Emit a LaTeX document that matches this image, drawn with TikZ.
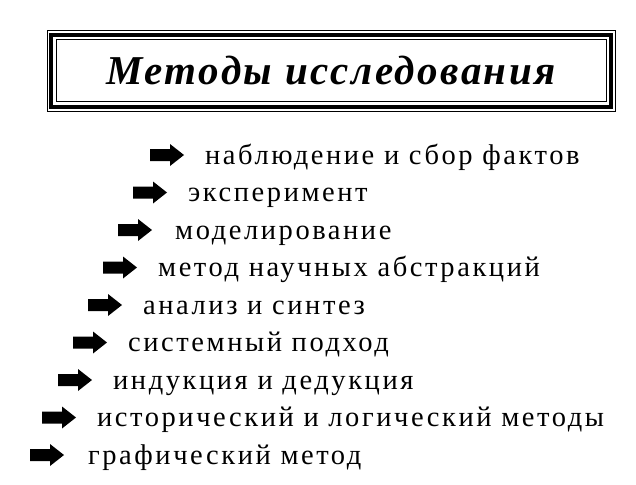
\documentclass[tikz,border=0pt]{standalone}
\usepackage{fontspec}
\setmainfont{Liberation Serif}
\usetikzlibrary{positioning}

\tikzset{
  item/.style={anchor=base west, inner sep=0pt,
    font=\addfontfeatures{LetterSpace=9}\fontsize{28.5}{32}\selectfont},
  pointer/.pic={\fill (0,6) -- (20,6) -- (20,11) -- (34,0) -- (20,-11) -- (20,-6) -- (0,-6) -- cycle;}
}

\begin{document}
\begin{tikzpicture}[x=1pt,y=1pt]
  \useasboundingbox (0,0) rectangle (636,-484);

  % title box
  \draw[line width=1pt] (47,-31) rectangle (615,-111);
  \draw[line width=3.5pt] (51,-35) rectangle (611,-107);
  \draw[line width=1pt] (56,-40) rectangle (606,-102);
  \node (title) at (331,-71) {\addfontfeatures{LetterSpace=6}\fontsize{41}{44}\selectfont\bfseries\itshape Методы исследования};

  % list
  \foreach \i/\ax/\tx/\txt in {
      1/150/205/наблюдение и сбор фактов,
      2/133/188/эксперимент,
      3/118/175/моделирование,
      4/103/158/метод научных абстракций,
      5/88/143/анализ и синтез,
      6/73/128/системный подход,
      7/58/113/индукция и дедукция,
      8/42/97/исторический и логический методы,
      9/30/88/графический метод} {
    \pgfmathsetmacro{\yy}{-155-(\i-1)*37.5}
    \pic (arr\i) at (\ax,\yy) {pointer};
    \node[item] (item\i) at (\tx,\yy-9) {\txt};
  }
\end{tikzpicture}
\end{document}
